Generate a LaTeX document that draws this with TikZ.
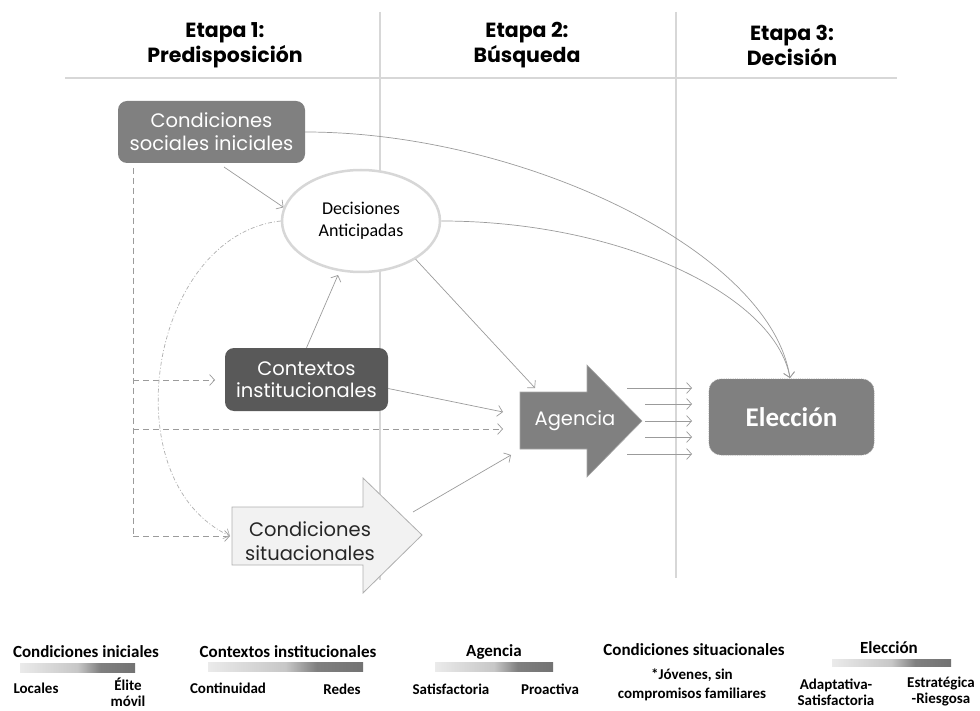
\documentclass[tikz,border=0pt]{standalone}
\usepackage{fontspec}
\setmainfont{Carlito}
\newfontfamily\gothic{Poppins}
\usetikzlibrary{arrows.meta,shapes.geometric}
\definecolor{midgray}{RGB}{128,128,128}
\definecolor{deepgray}{RGB}{89,89,89}
\definecolor{linegray}{RGB}{155,155,155}
\definecolor{guide}{RGB}{215,215,215}
\definecolor{pale}{RGB}{242,242,242}
\definecolor{arrowedge}{RGB}{175,175,175}
\pgfdeclarehorizontalshading{legbar}{100bp}{color(0bp)=(black!8); color(25bp)=(black!8); color(50bp)=(black!22); color(60bp)=(black!50); color(75bp)=(black!55); color(100bp)=(black!55)}
\begin{document}
\begin{tikzpicture}[x=1pt,y=-1pt,
  conn/.style={draw=linegray,line width=0.7pt,-{Straight Barb[length=5pt,width=11pt]}},
  dconn/.style={conn,dash pattern=on 6pt off 4pt},
  ddconn/.style={conn,draw=linegray!80,dash pattern=on 4pt off 2pt on 1pt off 2pt},
  guideline/.style={draw=guide,line width=1.8pt},
  head/.style={font=\gothic\bfseries\fontsize{20.5}{25}\selectfont,align=center,text=black},
  box/.style={rounded corners=9pt,text=white,align=center,font=\gothic\fontsize{19.5}{23}\selectfont},
  legtitle/.style={font=\bfseries\fontsize{17}{20}\selectfont,align=center},
  legtext/.style={font=\bfseries\fontsize{15}{16}\selectfont,align=center},
  bar/.style={shading=legbar}
]
\useasboundingbox (0,0) rectangle (980,711);

% guide lines
\draw[guideline] (380,12) -- (380,580);
\draw[guideline] (676,12) -- (676,578);
\draw[draw=guide,line width=2.5pt] (65,78) -- (897,78);

% headings
\node[head] (h1) at (225,45.5) {Etapa 1:\\Predisposición};
\node[head] (h2) at (527,45.5) {Etapa 2:\\Búsqueda};
\node[head] (h3) at (792,45.5) {Etapa 3:\\Decisión};

% nodes
\node[box,fill=midgray,minimum width=187pt,minimum height=62pt] (csi) at (211.5,132) {Condiciones\\sociales iniciales};
\node[box,fill=deepgray,minimum width=163pt,minimum height=63pt,font=\gothic\fontsize{19.5}{22}\selectfont] (ctx) at (306.5,379.5) {Contextos\\institucionales};
\node[ellipse,draw=guide,line width=2.5pt,fill=white,minimum width=158pt,minimum height=102pt,
      font=\fontsize{18}{22}\selectfont,align=center] (da) at (361,221) {Decisiones\\Anticipadas};
\node[rounded corners=12pt,fill=midgray,draw=black!45,densely dotted,line width=0.8pt,
      minimum width=165pt,minimum height=76pt,text=white,font=\bfseries\fontsize{27}{30}\selectfont] (ele) at (791.5,417) {Elección};

% Agencia arrow
\draw[fill=midgray,draw=black!35,line width=0.6pt] (520,392) -- (587,392) -- (587,365) -- (642,421) -- (587,477) -- (587,449) -- (520,449) -- cycle;
\node[text=white,font=\gothic\fontsize{19.5}{23}\selectfont] (ag) at (575,421) {Agencia};

% Condiciones situacionales arrow
\draw[fill=pale,draw=arrowedge,line width=0.8pt] (232,507) -- (363,507) -- (363,478) -- (422,535) -- (363,593) -- (363,565) -- (232,565) -- cycle;
\node[align=center,text=black!85,font=\gothic\fontsize{19.5}{24}\selectfont] (cs) at (310,541) {Condiciones\\situacionales};

% coordinates
\coordinate (csStart) at (413,512);
\coordinate (csIn) at (230,536);
\coordinate (agIn1) at (535,388);
\coordinate (agIn2) at (503,412);
\coordinate (agIn3) at (503,429);
\coordinate (agIn4) at (511,455);
\coordinate (eleTop) at (790,378);
\coordinate (dv0) at (133,168);
\coordinate (dv1) at (133,380);
\coordinate (dv2) at (133,429);
\coordinate (dv3) at (133,536);
\coordinate (ctxIn) at (215,380);

% connectors
\draw[conn] (224,167) -- (da.170);
\draw[conn] (ctx.north) -- (338,275);
\draw[conn] (da.-35) -- (agIn1);
\draw[conn] (ctx.east) ++(0,9) -- (agIn2);
\draw[conn] (csStart) -- (agIn4);
\draw[conn] (csi.east) .. controls (520,132) and (770,250) .. (eleTop);
\draw[conn] (da.east) .. controls (620,221) and (775,295) .. (eleTop);

% dashed
\draw[draw=linegray,line width=0.7pt,dash pattern=on 6pt off 4pt] (dv0) -- (dv3);
\draw[dconn] (dv1) -- (ctxIn);
\draw[dconn] (dv2) -- (agIn3);
\draw[dconn] (dv3) -- (csIn);
\draw[ddconn] (da.west) .. controls (150,235) and (110,480) .. (csIn);

% Agencia -> Eleccion
\foreach \y/\x in {388/627,404/645,421/645,437/645,454/627}{
  \draw[conn] (\x,\y) -- (692,\y);
}

% legend
\node[legtitle] (l1) at (86,652) {Condiciones iniciales};
\shade[bar] (20,663) rectangle (135,672);
\node[legtext] (l1a) at (36,688) {Locales};
\node[legtext] (l1b) at (128,692) {Élite\\móvil};

\node[legtitle] (l2) at (288,652) {Contextos institucionales};
\shade[bar] (208,662) rectangle (363,671);
\node[legtext] (l2a) at (228,688) {Continuidad};
\node[legtext] (l2b) at (342,689) {Redes};

\node[legtitle] (l3) at (494,652) {Agencia};
\shade[bar] (435,662) rectangle (553,671);
\node[legtext] (l3a) at (451,689) {Satisfactoria};
\node[legtext] (l3b) at (550,689) {Proactiva};

\node[legtitle] (l4) at (694,650) {Condiciones situacionales};
\node[legtext,font=\bfseries\fontsize{15}{19}\selectfont] (l4a) at (692,684.5) {*Jóvenes, sin\\compromisos familiares};

\node[legtitle] (l5) at (889,648) {Elección};
\shade[bar] (832,659) rectangle (951,666);
\node[legtext] (l5a) at (836,692) {Adaptativa-\\Satisfactoria};
\node[legtext] (l5b) at (941,692) {Estratégica\\-Riesgosa};
\end{tikzpicture}
\end{document}
